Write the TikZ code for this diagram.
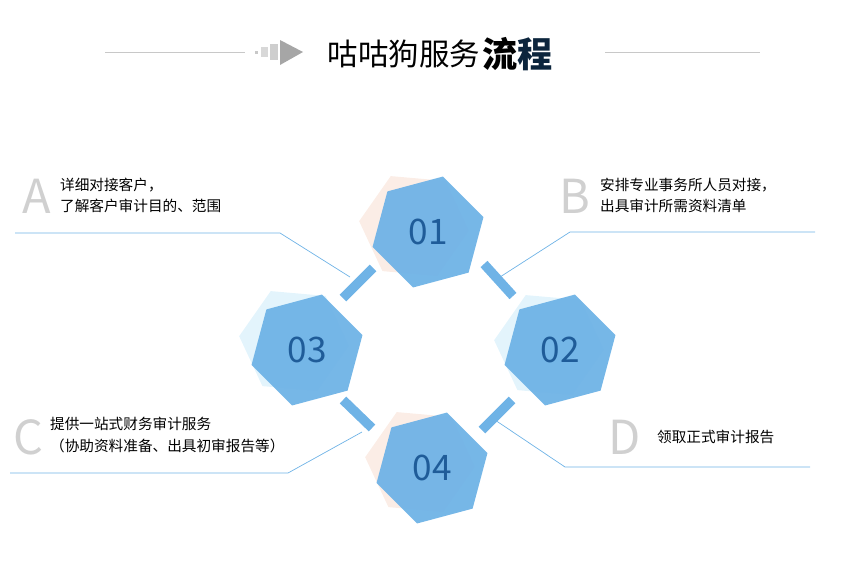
\documentclass[tikz,border=0pt]{standalone}
\usepackage{fontspec}
\setmainfont{Noto Sans CJK SC}
\usepackage{tikz}
\usetikzlibrary{shapes.geometric,positioning}
\definecolor{hexblue}{HTML}{6FB3E6}
\definecolor{numblue}{HTML}{1F5C99}
\definecolor{pinkback}{HTML}{FBEDE6}
\definecolor{cyanback}{HTML}{E3F4FC}
\definecolor{linegray}{HTML}{C8C8C8}
\definecolor{letgray}{HTML}{D0D0D0}
\begin{document}
\begin{tikzpicture}[x=0.03cm,y=-0.03cm]
    \tikzstyle{hexa}=[regular polygon,regular polygon sides=6,minimum size=98pt,inner sep=0pt,fill=hexblue,opacity=0.95,rotate=15]
    \tikzstyle{backhex}=[regular polygon,regular polygon sides=6,minimum size=94pt,inner sep=0pt,rotate=-5]
    \tikzstyle{num}=[text=numblue,font=\fontsize{30}{30}\selectfont]
    \tikzstyle{bar}=[hexblue,line width=8pt]
    \tikzstyle{thin}=[hexblue,line width=0.6pt]
    \tikzstyle{letter}=[text=letgray,font=\fontsize{40}{40}\selectfont]
    \tikzstyle{desc}=[anchor=west,align=left,font=\fontsize{12.5}{18}\selectfont]
    \useasboundingbox (0,0) rectangle (850,586);
    % title
    \draw [linegray,line width=0.6pt] (105,52) -- (245,52);
    \draw [linegray,line width=0.6pt] (605,52) -- (760,52);
    \fill [linegray] (255,51) rectangle (258,54);
    \fill [linegray!70] (261,47) rectangle (268,57);
    \fill [linegray!90] (270,44) rectangle (278,60);
    \fill [black!35] (280,40) -- (303,52) -- (280,65) -- cycle;
    \node (title) at (404,54) [anchor=center,font=\fontsize{26}{26}\selectfont] {咕咕狗服务};
    \node (titlebold) [right=-5pt of title] {\fontsize{30}{30}\selectfont\bfseries\textcolor{black}{流}\textcolor{black!60!numblue}{程}};
    % back hexagons
    \node (b1) at (414,226) [backhex,fill=pinkback] {};
    \node (b2) at (549,345) [backhex,fill=cyanback] {};
    \node (b3) at (294,341) [backhex,fill=cyanback] {};
    \node (b4) at (420,462) [backhex,fill=pinkback] {};
    % thin lines
    \coordinate (a0) at (15,233);  \coordinate (a1) at (280,233);
    \coordinate (bq0) at (815,232); \coordinate (bq1) at (570,232);
    \coordinate (c0) at (10,473);  \coordinate (c1) at (288,473);
    \coordinate (d0) at (810,467); \coordinate (d1) at (565,467);
    \draw [thin] (a0) -- (a1) -- (350,277);
    \draw [thin] (bq0) -- (bq1) -- (500,277);
    \draw [thin] (c0) -- (c1) -- (362,432);
    \draw [thin] (d0) -- (d1) -- (495,420);
    % bars
    \draw [bar] (343,298) -- (373,268);
    \draw [bar] (484,264) -- (513,296);
    \draw [bar] (343,400) -- (372,428);
    \draw [bar] (482,430) -- (512,400);
    % hexagons
    \node (h1) at (428,232) [hexa] {};
    \node (h2) at (560,350) [hexa] {};
    \node (h3) at (307,350) [hexa] {};
    \node (h4) at (432,468) [hexa] {};
    \node at (h1) [num] {01};
    \node at (h2) [num] {02};
    \node at (h3) [num] {03};
    \node at (h4) [num] {04};
    % labels
    \node (la) at (37,196) [letter] {A};
    \node (lb) at (575,196) [letter] {B};
    \node (lc) at (28,437) [letter] {C};
    \node (ld) at (625,437) [letter] {D};
    \node (ta) at (56,195) [desc] {详细对接客户，\\了解客户审计目的、范围};
    \node (tb) at (596,195) [desc] {安排专业事务所人员对接，\\出具审计所需资料清单};
    \node (tc) at (46,435) [desc] {提供一站式财务审计服务\\（协助资料准备、出具初审报告等）};
    \node (td) at (653,437) [desc] {领取正式审计报告};
\end{tikzpicture}
\end{document}
